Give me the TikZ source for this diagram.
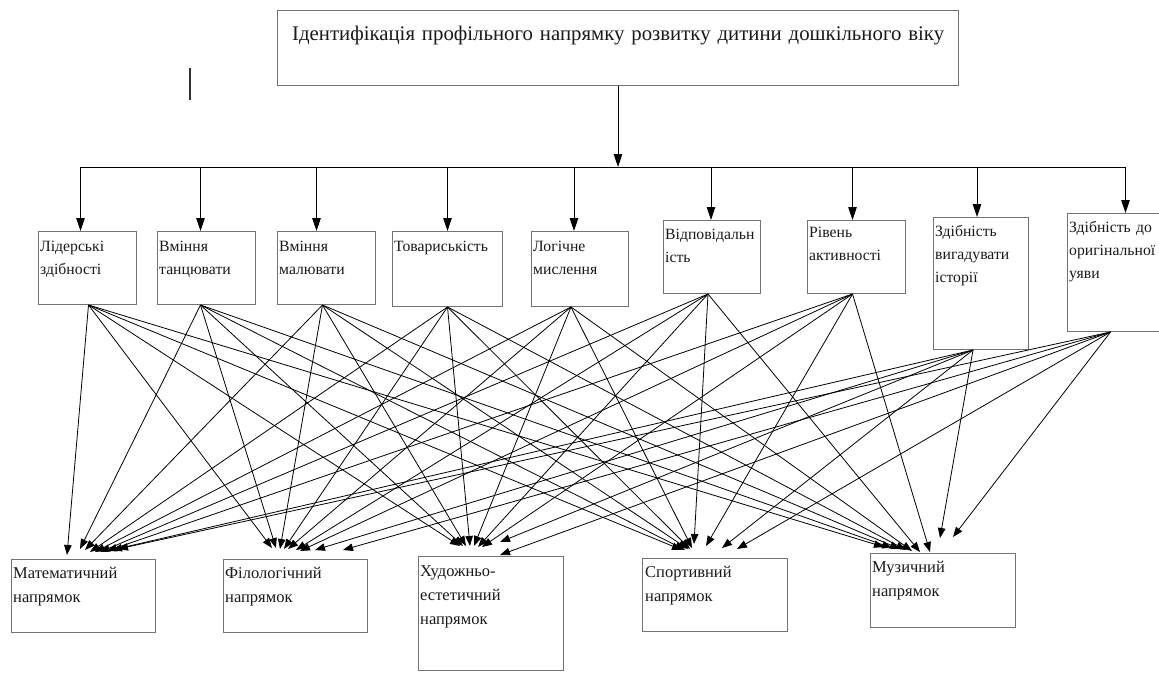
\documentclass[tikz,border=0pt]{standalone}
\usepackage{fontspec}
\setmainfont{Liberation Serif}
\usetikzlibrary{calc,arrows.meta}
\newcommand\midfont{\fontsize{15.7}{23}\selectfont}
\newcommand\botfont{\fontsize{16.5}{24}\selectfont}
\newcommand\headfont{\fontsize{20.8}{24}\selectfont}
\begin{document}
\begin{tikzpicture}[x=1pt,y=-1pt,
  frame/.style={draw=black!55, line width=1pt, inner sep=0pt, anchor=north west},
  txt/.style={inner sep=0pt, anchor=base west, text width=160pt, align=left, font=\midfont, text=black!90},
  btxt/.style={txt, font=\botfont},
  link/.style={line width=0.8pt, -{Triangle[length=10pt,width=7.5pt]}},
  drop/.style={line width=1pt, -{Triangle[length=13pt,width=8.5pt]}}]
\useasboundingbox (0,0) rectangle (1159,672);
% top box
\node[frame, minimum width=681pt, minimum height=75pt] (top) at (277,10) {};
\node[txt, font=\headfont, text width=700pt] (toptxt) at ($(top.north west)+(15,30)$) {Ідентифікація профільного напрямку розвитку дитини дошкільного віку};
% stray mark
\coordinate (mk1) at (190,68);
\coordinate (mk2) at (190,100);
\draw[line width=1.3pt, black!80] (mk1) -- (mk2);
% middle boxes
\node[frame, minimum width=98pt, minimum height=73pt] (b1) at (38,231) {};
\node[frame, minimum width=98pt, minimum height=73pt] (b2) at (157,231) {};
\node[frame, minimum width=98pt, minimum height=73pt] (b3) at (277,231) {};
\node[frame, minimum width=110pt, minimum height=75pt] (b4) at (392,231) {};
\node[frame, minimum width=97pt, minimum height=75pt] (b5) at (531,231) {};
\node[frame, minimum width=97pt, minimum height=73pt] (b6) at (663,220) {};
\node[frame, minimum width=98pt, minimum height=73pt] (b7) at (807,220) {};
\node[frame, minimum width=95pt, minimum height=132pt] (b8) at (933,217) {};
\node[frame, minimum width=100pt, minimum height=118pt] (b9) at (1067,213) {};
\node[txt] (t1) at ($(b1.north west)+(2,20)$) {Лідерські\\здібності};
\node[txt] (t2) at ($(b2.north west)+(2,20)$) {Вміння\\танцювати};
\node[txt] (t3) at ($(b3.north west)+(2,20)$) {Вміння\\малювати};
\node[txt] (t4) at ($(b4.north west)+(2,20)$) {Товариськість};
\node[txt] (t5) at ($(b5.north west)+(2,20)$) {Логічне\\мислення};
\node[txt] (t6) at ($(b6.north west)+(2,19)$) {Відповідальн\\ість};
\node[txt] (t7) at ($(b7.north west)+(2,17)$) {Рівень\\активності};
\node[txt] (t8) at ($(b8.north west)+(2,19)$) {Здібність\\вигадувати\\історії};
\node[txt] (t9) at ($(b9.north west)+(2,19)$) {Здібність до\\оригінальної\\уяви};
% bottom boxes
\node[frame, minimum width=144pt, minimum height=73pt] (m1) at (11,559) {};
\node[frame, minimum width=144pt, minimum height=73pt] (m2) at (223,559) {};
\node[frame, minimum width=145pt, minimum height=114pt] (m3) at (418,556) {};
\node[frame, minimum width=145pt, minimum height=73pt] (m4) at (642,558) {};
\node[frame, minimum width=145pt, minimum height=74pt] (m5) at (870,553) {};
\node[btxt] (u1) at ($(m1.north west)+(2,19)$) {Математичний\\напрямок};
\node[btxt] (u2) at ($(m2.north west)+(2,19)$) {Філологічний\\напрямок};
\node[btxt] (u3) at ($(m3.north west)+(2,20)$) {Художньо-\\естетичний\\напрямок};
\node[btxt] (u4) at ($(m4.north west)+(3,19)$) {Спортивний\\напрямок};
\node[btxt] (u5) at ($(m5.north west)+(2,19)$) {Музичний\\напрямок};
% tree
\coordinate (bar) at (0,167);
\foreach \i/\dx in {1/-7,2/-6,3/-10,4/0,5/-6,6/-1,7/-4,8/-4,9/8}
  \coordinate (j\i) at ($(b\i.north)+(\dx,0)$);
\draw[line width=1pt] (j1 |- bar) -- (j9 |- bar);
\draw[drop] (top.south) -- (top.south |- bar);
\foreach \i in {1,...,9}
  \draw[drop] (j\i |- bar) -- (j\i);
% sources
\foreach \i/\dx in {1/1,2/-6,3/-4,4/0,5/-9,6/-4,7/-4,8/-8,9/-7}
  \coordinate (s\i) at ($(b\i.south)+(\dx,0)$);
% links
\foreach \s/\x/\y in {1/56/-4,2/69/-10,3/74/-9,4/79/-7,5/84/-7,6/89/-7,7/96/-8,8/101/-9,9/107/-10}
  \draw[link] (s\s) -- ($(m1.north west)+(\x,\y)$);
\foreach \s/\x/\y in {1/49/-11,2/53/-11,3/57/-10,4/61/-10,5/65/-10,6/73/-9,7/77/-8,8/92/-9,9/120/-9}
  \draw[link] (s\s) -- ($(m2.north west)+(\x,\y)$);
\foreach \s/\x/\y in {1/42/-10,2/45/-10,3/48/-10,4/52/-10,5/56/-10,6/60/-9,7/64/-9,8/82/-14,9/82/-1}
  \draw[link] (s\s) -- ($(m3.north west)+(\x,\y)$);
\foreach \s/\x/\y in {1/40/-8,2/43/-8,3/46/-9,4/48/-9,5/50/-10,6/52/-14,7/64/-12,8/80/-10,9/95/-9}
  \draw[link] (s\s) -- ($(m4.north west)+(\x,\y)$);
\foreach \s/\x/\y in {1/14/-6,2/22/-5,3/30/-4,4/36/-3,5/42/-2,6/50/-1,7/60/-1,8/70/-15,9/83/-16}
  \draw[link] (s\s) -- ($(m5.north west)+(\x,\y)$);
\end{tikzpicture}
\end{document}
